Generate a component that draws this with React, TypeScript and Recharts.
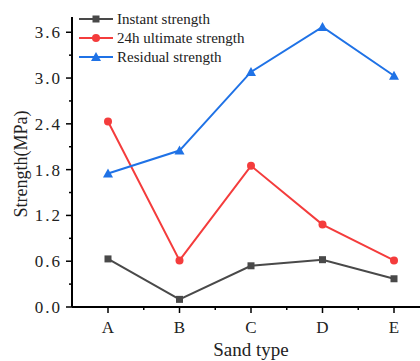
import { LineChart, Line, XAxis, YAxis } from "recharts";

const sandTypes = ["A", "B", "C", "D", "E"];
const instantStrength = [0.63, 0.1, 0.54, 0.62, 0.37];
const ultimate24h = [2.43, 0.61, 1.85, 1.08, 0.61];
const residualStrength = [1.75, 2.05, 3.08, 3.67, 3.03];
const yTicks = [0, 0.3, 0.6, 0.9, 1.2, 1.5, 1.8, 2.1, 2.4, 2.7, 3.0, 3.3, 3.6];

const chartData = sandTypes.map((name, i) => ({
  name,
  instant: instantStrength[i],
  ultimate: ultimate24h[i],
  residual: residualStrength[i],
}));

const FONT = "'Liberation Serif', 'DejaVu Serif', serif";
const GRAY = "#494949";
const RED = "#f43c3c";
const BLUE = "#1f72e6";
const PAD = 36;
const STEP = (358 - 2 * PAD) / 4;

const Square = (props: any) => {
  const { cx, cy } = props;
  return <rect x={cx - 3.5} y={cy - 3.5} width={7} height={7} fill={GRAY} />;
};
const Dot = (props: any) => {
  const { cx, cy } = props;
  return <circle cx={cx} cy={cy} r={4} fill={RED} />;
};
const Tri = (props: any) => {
  const { cx, cy } = props;
  return <path d={`M${cx},${cy - 5} L${cx + 5},${cy + 4} L${cx - 5},${cy + 4} Z`} fill={BLUE} />;
};

const series = [
  { key: "instant", name: "Instant strength", color: GRAY, Marker: Square },
  { key: "ultimate", name: "24h ultimate strength", color: RED, Marker: Dot },
  { key: "residual", name: "Residual strength", color: BLUE, Marker: Tri },
];

const YTick = (props: any) => {
  const { x, y, payload } = props;
  const v = payload.value;
  const major = Math.round(v * 10) % 6 === 0;
  return (
    <g>
      <line x1={x} x2={x - (major ? 6 : 3)} y1={y} y2={y} stroke="#000" strokeWidth={1.5} />
      {major && (
        <text x={x - 10} y={y + 6} textAnchor="end" fontSize={17} letterSpacing={2} fontFamily={FONT} fill="#222">
          {v.toFixed(1)}
        </text>
      )}
    </g>
  );
};

const XTick = (props: any) => {
  const { x, y, payload } = props;
  return (
    <g>
      <line x1={x} x2={x} y1={y} y2={y + 6} stroke="#000" strokeWidth={1.5} />
      <line x1={x + STEP / 2} x2={x + STEP / 2} y1={y} y2={y + 3} stroke="#000" strokeWidth={1.5} />
      <text x={x} y={y + 26} textAnchor="middle" fontSize={17} fontFamily={FONT} fill="#222">
        {payload.value}
      </text>
    </g>
  );
};

const LegendBox = () => (
  <svg width={240} height={60} style={{ position: "absolute", left: 78, top: 10 }}>
    {series.map((s, i) => {
      const cy = 9 + i * 19;
      const M = s.Marker;
      return (
        <g key={s.key}>
          <line x1={1} x2={35} y1={cy} y2={cy} stroke={s.color} strokeWidth={2} />
          <M cx={18} cy={cy} />
          <text x={39} y={cy + 5} fontSize={15} fontFamily={FONT} fill="#222">
            {s.name}
          </text>
        </g>
      );
    })}
  </svg>
);

export default function App() {
  return (
    <div style={{ position: "absolute", left: 0, top: 0, width: 420, height: 361, overflow: "hidden", background: "#fff" }}>
      <LineChart width={430} height={361} data={chartData} margin={{ top: 17, right: 0, bottom: 0, left: 8 }}>
        <XAxis
          dataKey="name"
          height={54}
          padding={{ left: PAD, right: PAD }}
          tickSize={0}
          tickMargin={0}
          tickLine={false}
          axisLine={{ stroke: "#000", strokeWidth: 2 }}
          tick={<XTick />}
          interval={0}
          label={{
            content: (p: any) => {
              const vb = p.viewBox;
              return (
                <text x={vb.x + vb.width / 2} y={vb.y + 49} textAnchor="middle" fontSize={19} fontFamily={FONT} fill="#222">
                  Sand type
                </text>
              );
            },
          }}
        />
        <YAxis
          type="number"
          domain={[0, 3.8]}
          ticks={yTicks}
          width={64}
          tickSize={0}
          tickMargin={0}
          tickLine={false}
          interval={0}
          axisLine={{ stroke: "#000", strokeWidth: 2 }}
          tick={<YTick />}
          label={{
            content: (p: any) => {
              const vb = p.viewBox;
              const cx = 21;
              const cy = vb.y + vb.height / 2 + 2;
              return (
                <text x={cx} y={cy} transform={`rotate(-90 ${cx} ${cy})`} textAnchor="middle" dominantBaseline="central" fontSize={18} fontFamily={FONT} fill="#222">
                  Strength(MPa)
                </text>
              );
            },
          }}
        />
        {series.map((s) => (
          <Line
            key={s.key}
            dataKey={s.key}
            name={s.name}
            stroke={s.color}
            strokeWidth={2}
            dot={<s.Marker />}
            activeDot={false}
            isAnimationActive={false}
          />
        ))}
      </LineChart>
      <LegendBox />
    </div>
  );
}
